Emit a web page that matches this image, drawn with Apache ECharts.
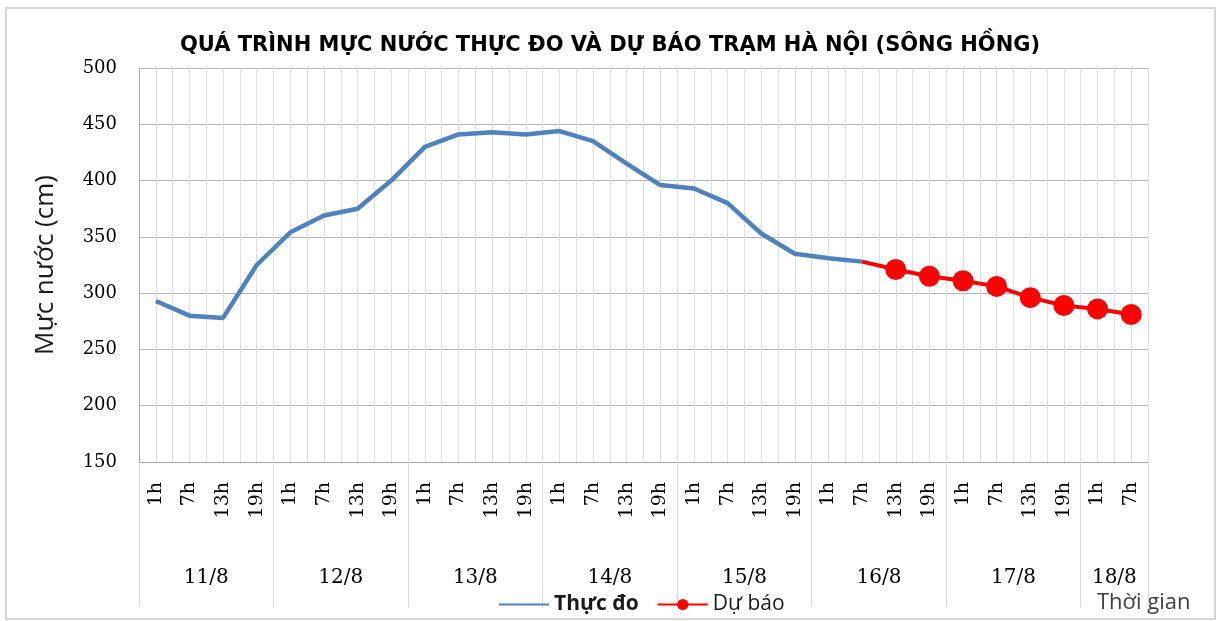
<!DOCTYPE html>
<html>
<head>
<meta charset="utf-8">
<script src="https://cdn.jsdelivr.net/npm/echarts@6/dist/echarts.min.js"></script>
<style>
  html, body { margin: 0; padding: 0; background: #fff; }
  #chart { width: 1220px; height: 621px; }
</style>
</head>
<body>
<div id="chart"></div>
<script>
// hour tick labels (6-hourly observations)
const hours = [
  "1h", "7h", "13h", "19h",
  "1h", "7h", "13h", "19h",
  "1h", "7h", "13h", "19h",
  "1h", "7h", "13h", "19h",
  "1h", "7h", "13h", "19h",
  "1h", "7h", "13h", "19h",
  "1h", "7h", "13h", "19h",
  "1h", "7h",
];
const days = ["11/8", "12/8", "13/8", "14/8", "15/8", "16/8", "17/8", "18/8"];
const hoursPerDay = [4, 4, 4, 4, 4, 4, 4, 2];

// water level, cm
const measured = [
  293, 280, 278, 325,
  354, 369, 375, 400,
  430, 441, 443, 441,
  444, 435, 415, 396,
  393, 380, 353, 335,
  331, 328,
];
const forecast = [321, 315, 311, 306, 296, 289, 286, 281];

// day groups on a half-category scale (2 units per hour slot)
const dayEdges = [0];
const dayCenters = [];
hoursPerDay.forEach((n) => {
  const start = dayEdges[dayEdges.length - 1];
  dayCenters.push(start + n);
  dayEdges.push(start + n * 2);
});
const halfMax = dayEdges[dayEdges.length - 1];

// forecast line starts at the last measured value
const forecastData = measured.slice(0, -1).map(() => null);
forecastData.push({ value: measured[measured.length - 1], symbol: "none" });
forecast.forEach((v) => forecastData.push(v));

const chart = echarts.init(document.getElementById("chart"));

const option = {
  animation: false,
  title: {
    text: "QUÁ TRÌNH MỰC NƯỚC THỰC ĐO VÀ DỰ BÁO TRẠM HÀ NỘI (SÔNG HỒNG)",
    left: "center",
    top: 30,
    textStyle: {
      fontFamily: "DejaVu Sans",
      fontSize: 21,
      fontWeight: "bold",
      color: "#000",
    },
  },
  legend: {
    left: 493,
    top: 589,
    itemWidth: 50,
    itemHeight: 14,
    itemGap: 18,
    textStyle: { fontFamily: "Open Sans", fontSize: 21, color: "#1a1a1a" },
    data: [
      {
        name: "Thực đo",
        itemStyle: { opacity: 0 },
        textStyle: { fontWeight: "bold" },
      },
      { name: "Dự báo" },
    ],
  },
  grid: { left: 139, right: 72, top: 68, bottom: 159, outerBoundsMode: "none" },
  xAxis: [
    {
      type: "category",
      position: "bottom",
      data: hours,
      boundaryGap: true,
      axisLine: { lineStyle: { color: "#a6a6a6", width: 1 } },
      axisTick: { show: false },
      axisLabel: {
        rotate: 90,
        margin: 20,
        interval: 0,
        fontFamily: "DejaVu Serif",
        fontSize: 19,
        color: "#000",
      },
      splitLine: { show: false },
    },
    {
      type: "value",
      position: "bottom",
      min: 0,
      max: halfMax,
      interval: 1,
      axisLine: { show: false },
      axisTick: { show: false },
      axisLabel: { show: false },
      splitLine: { show: true, lineStyle: { color: "#e0e0e0", width: 1 } },
    },
    {
      type: "value",
      position: "bottom",
      min: 0,
      max: halfMax,
      axisLine: { show: false },
      axisTick: {
        show: true,
        customValues: dayEdges,
        length: 145,
        lineStyle: { color: "#d9d9d9", width: 1 },
      },
      axisLabel: {
        customValues: dayCenters,
        formatter: (v) => days[dayCenters.indexOf(v)],
        margin: 106,
        fontFamily: "DejaVu Serif",
        fontSize: 20,
        color: "#000",
      },
      splitLine: { show: false },
    },
  ],
  yAxis: {
    type: "value",
    min: 150,
    max: 500,
    interval: 50,
    name: "Mực nước (cm)",
    nameLocation: "middle",
    nameGap: 80,
    nameTextStyle: { fontFamily: "Open Sans", fontSize: 26, color: "#1a1a1a" },
    axisLine: { show: true, lineStyle: { color: "#a6a6a6" } },
    axisTick: { show: false },
    axisLabel: {
      margin: 22,
      fontFamily: "DejaVu Serif",
      fontSize: 18,
      color: "#000",
    },
    splitLine: { lineStyle: { color: "#b3b3b3", width: 1 } },
  },
  graphic: [
    {
      type: "rect",
      shape: { x: 6, y: 8, width: 1209, height: 611 },
      style: { fill: "none", stroke: "#d6d6d6", lineWidth: 2 },
      silent: true,
    },
    {
      type: "text",
      left: 1097,
      top: 592,
      style: {
        text: "Thời gian",
        fontFamily: "Open Sans",
        fontSize: 22,
        fill: "#404040",
      },
    },
  ],
  series: [
    {
      name: "Thực đo",
      type: "line",
      data: measured,
      symbol: "none",
      lineStyle: { color: "#4f81bd", width: 4.5 },
      itemStyle: { color: "#4f81bd" },
      z: 3,
    },
    {
      name: "Dự báo",
      type: "line",
      data: forecastData,
      symbol: "circle",
      symbolSize: 21,
      lineStyle: { color: "#ff0000", width: 4 },
      itemStyle: { color: "#ff0000" },
      z: 4,
    },
  ],
};

chart.setOption(option);
</script>
</body>
</html>
